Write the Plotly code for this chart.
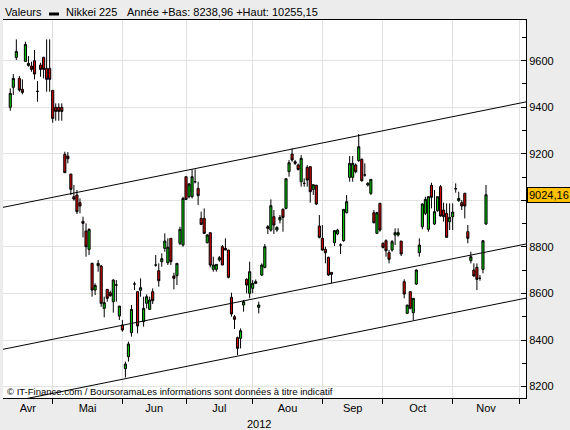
import numpy as np
import pandas as pd
import plotly.graph_objects as go

# ---------------- data ----------------
dates = pd.bdate_range("2012-04-11", "2012-11-16")  # one candle per weekday

opens = [9399.5, 9485.4, 9614.3, 9524.0, 9476.8, 9597.0, 9579.9, 9577.0, 9600.0, 9468.2,
         9581.3, 9614.3, 9567.0, 9567.0, 9472.5, 9399.5, 9399.5, 9399.5, 9197.6, 9190.4,
         9113.0, 9015.7, 9022.9, 8990.0, 8909.7, 8868.2, 8789.4, 8729.3, 8614.7, 8719.3,
         8717.9, 8536.0, 8617.6, 8603.3, 8564.6, 8636.2, 8503.0, 8464.4, 8276.8, 8328.3,
         8431.5, 8640.5, 8607.6, 8613.3, 8478.7, 8557.5, 8531.7, 8607.6, 8722.1, 8697.8,
         8736.5, 8793.7, 8732.2, 8836.7, 8675.0, 8676.3, 8815.2, 8808.0, 9101.6, 9015.7,
         9015.7, 9080.1, 9051.5, 8922.6, 8922.6, 8818.1, 8861.1, 8703.5, 8703.5, 8743.6,
         8800.9, 8793.7, 8786.6, 8583.2, 8500.2, 8410.0, 8407.1, 8550.3, 8660.6, 8600.4,
         8621.9, 8643.4, 8540.3, 8679.2, 8712.1, 8886.8, 8872.5, 8929.8, 8872.5, 8915.5,
         8961.3, 8965.6, 9123.1, 9199.0, 9166.0, 9151.7, 9080.1, 9073.0, 9141.7, 9144.6,
         9047.2, 9064.4, 8889.7, 8836.7, 8789.4, 8755.1, 8690.6, 8818.1, 8855.3, 8808.0,
         8826.7, 8947.0, 9098.8, 9098.8, 9151.7, 9170.4, 9176.1, 9108.8, 9065.8, 9030.0,
         8947.0, 8858.2, 8987.0, 8815.2, 8826.7, 8775.1, 8786.6, 8851.0, 8851.0, 8825.2,
         8650.5, 8514.5, 8607.6, 8517.4, 8640.5, 8775.1, 8886.8, 8944.1, 8875.4, 9064.4,
         8898.3, 8955.5, 9058.7, 8958.4, 8944.1, 8908.3, 8929.8, 9050.0, 8998.5, 8990.0,
         9030.0, 8865.4, 8740.8, 8700.7, 8712.1, 8664.9, 8703.5, 8898.3]
highs = [9481.0, 9542.7, 9691.6, 9534.0, 9519.8, 9681.6, 9620.0, 9595.7, 9645.8, 9512.6,
         9591.4, 9617.1, 9691.6, 9691.6, 9472.5, 9416.7, 9416.7, 9416.7, 9209.0, 9207.6,
         9113.0, 9065.8, 9044.3, 9008.5, 8929.8, 8901.1, 8879.7, 8732.2, 8643.4, 8743.6,
         8722.1, 8586.1, 8617.6, 8612.0, 8660.6, 8657.7, 8546.0, 8485.9, 8306.9, 8392.8,
         8550.3, 8650.5, 8607.6, 8664.9, 8586.1, 8596.1, 8586.1, 8621.9, 8765.1, 8729.3,
         8772.3, 8858.2, 8836.7, 8836.7, 8689.2, 8729.3, 8886.8, 9015.7, 9101.6, 9075.0,
         9133.1, 9133.1, 9080.1, 8951.3, 8965.6, 8855.0, 8861.1, 8758.0, 8725.0, 8760.8,
         8808.0, 8836.7, 8786.6, 8603.3, 8507.3, 8414.3, 8450.0, 8571.8, 8664.9, 8736.5,
         8657.7, 8660.0, 8564.6, 8729.3, 8812.4, 8894.0, 9004.2, 8958.4, 8888.0, 8936.9,
         8965.6, 9093.0, 9173.2, 9223.3, 9173.0, 9158.0, 9194.7, 9094.5, 9151.7, 9147.4,
         9067.3, 9067.3, 8936.9, 8894.0, 8800.9, 8758.0, 8690.6, 8872.5, 8878.0, 8815.2,
         8961.3, 9022.9, 9190.4, 9190.4, 9158.9, 9284.9, 9180.4, 9158.9, 9078.0, 9090.2,
         8958.4, 8951.3, 8990.0, 8820.0, 8832.4, 8786.6, 8829.5, 8879.7, 8879.7, 8825.2,
         8660.6, 8550.3, 8607.6, 8579.0, 8703.5, 8836.7, 8987.0, 9015.7, 9018.6, 9075.8,
         9044.3, 9015.7, 9065.8, 8990.0, 8987.0, 8987.0, 8987.0, 9073.0, 9037.2, 9001.4,
         9032.9, 8894.0, 8779.4, 8729.3, 8729.3, 8679.2, 8826.7, 9066.0]
lows = [9385.0, 9452.5, 9602.8, 9466.8, 9455.3, 9595.7, 9574.2, 9552.7, 9519.8, 9423.8,
        9531.2, 9524.0, 9466.8, 9466.8, 9333.6, 9342.2, 9342.2, 9342.2, 9118.8, 9158.9,
        9022.9, 8998.5, 8941.2, 8944.1, 8841.0, 8758.0, 8765.0, 8586.1, 8593.0, 8693.5,
        8543.1, 8497.3, 8564.6, 8586.1, 8517.4, 8564.6, 8485.9, 8435.7, 8238.96, 8306.9,
        8414.3, 8614.7, 8428.6, 8586.1, 8457.3, 8536.0, 8528.8, 8554.6, 8715.0, 8629.1,
        8715.0, 8779.4, 8722.1, 8722.1, 8617.6, 8636.2, 8808.0, 8800.9, 9001.4, 9008.5,
        9008.5, 9072.9, 8979.9, 8894.0, 8855.3, 8815.0, 8712.1, 8693.5, 8693.5, 8736.5,
        8722.1, 8786.6, 8664.9, 8500.2, 8447.2, 8335.5, 8364.0, 8521.7, 8600.4, 8579.0,
        8600.4, 8640.0, 8514.5, 8675.0, 8707.8, 8855.3, 8865.4, 8855.3, 8865.0, 8901.1,
        8865.4, 8961.3, 9101.6, 9166.0, 9151.7, 9128.0, 9058.7, 9058.7, 9058.7, 8989.9,
        9022.9, 8979.9, 8836.7, 8783.7, 8729.3, 8675.0, 8643.4, 8803.8, 8850.0, 8769.4,
        8822.4, 8944.1, 9080.1, 9080.1, 9115.9, 9166.0, 9080.1, 9101.6, 9060.0, 9022.9,
        8901.1, 8855.3, 8865.4, 8793.0, 8758.0, 8729.3, 8779.4, 8808.0, 8843.9, 8760.8,
        8579.0, 8511.6, 8531.7, 8485.9, 8636.2, 8758.0, 8875.4, 8936.9, 8865.4, 8965.6,
        8894.0, 8951.3, 8929.8, 8908.3, 8841.0, 8872.5, 8872.5, 9032.9, 8994.2, 8958.4,
        8922.6, 8815.2, 8729.3, 8672.0, 8614.7, 8654.8, 8686.3, 8894.0]
closes = [9459.6, 9524.0, 9640.0, 9474.0, 9463.9, 9670.0, 9588.5, 9562.7, 9542.7, 9468.2,
          9562.7, 9562.7, 9519.8, 9519.8, 9352.2, 9382.3, 9382.3, 9382.3, 9118.8, 9179.0,
          9047.2, 9005.7, 8951.3, 8975.6, 8901.1, 8800.9, 8875.4, 8614.7, 8634.7, 8729.3,
          8557.5, 8560.3, 8579.0, 8590.4, 8657.7, 8636.2, 8546.0, 8442.9, 8296.9, 8382.8,
          8531.7, 8640.5, 8460.1, 8624.8, 8536.0, 8586.1, 8571.8, 8569.0, 8722.1, 8654.8,
          8749.4, 8825.2, 8798.1, 8736.5, 8664.9, 8729.3, 8875.4, 9008.5, 9004.2, 9070.1,
          9101.6, 9080.1, 9020.0, 8896.8, 8858.2, 8851.0, 8722.1, 8722.1, 8725.0, 8753.6,
          8722.1, 8786.6, 8669.2, 8511.6, 8488.7, 8364.1, 8440.0, 8564.6, 8636.2, 8693.5,
          8643.4, 8650.5, 8550.3, 8722.1, 8800.9, 8879.7, 8977.0, 8894.0, 8884.0, 8926.9,
          8926.9, 9093.0, 9161.8, 9173.2, 9158.9, 9133.1, 9180.4, 9073.0, 9087.3, 9037.2,
          9067.3, 8984.2, 8841.0, 8786.6, 8775.1, 8679.2, 8682.0, 8869.6, 8872.5, 8808.0,
          8961.3, 8994.2, 9158.9, 9158.9, 9123.1, 9230.5, 9084.4, 9108.8, 9073.0, 9090.2,
          8904.0, 8947.0, 8872.5, 8798.0, 8783.7, 8746.5, 8822.4, 8861.1, 8861.1, 8769.4,
          8597.5, 8550.3, 8536.0, 8579.0, 8700.7, 8808.0, 8984.2, 9004.2, 9015.7, 9012.8,
          8951.3, 9015.7, 8932.6, 8929.8, 8841.0, 8926.9, 8949.9, 9050.0, 9008.5, 8975.6,
          8975.6, 8836.7, 8758.0, 8675.0, 8660.6, 8664.9, 8826.7, 9024.16]

month_names = ["Avr", "Mai", "Jun", "Jul", "Aou", "Sep", "Oct", "Nov"]
month_bounds = ["2012-04-01", "2012-05-01", "2012-06-01", "2012-07-01", "2012-08-01",
                "2012-09-01", "2012-10-01", "2012-11-01", "2012-12-01"]
y_ticks = [8200, 8400, 8600, 8800, 9000, 9200, 9400, 9600]
# the 9000 label sits under the last-price box in the reference
y_ticktext = ["8200", "8400", "8600", "8800", "", "9200", "9400", "9600"]

# regression channel (values at the left / right edges of the chart)
channel_top = [8970.0, 9423.0]
channel_mid = [8360.0, 8812.5]
channel_bot = [8128.0, 8580.0]

title_name = "Nikkei 225"
title_stats = "Année +Bas: 8238,96 +Haut: 10255,15"
last_label = "9024,16"

# ---------------- positions (trading-day index, 0 = 1 May 2012) ----------------
ORIGIN = "2012-05-01"
day_idx = np.busday_count(ORIGIN, dates.values.astype("datetime64[D]"))
bounds_idx = np.busday_count(ORIGIN, np.array(month_bounds, dtype="datetime64[D]"))
X_LO, X_HI = -16.4, 156.2
Y_LO, Y_HI = 8150.8, 9774.9
label_pos = [(max(a, X_LO) + min(b, X_HI)) / 2 for a, b in zip(bounds_idx[:-1], bounds_idx[1:])]

GREEN = "#00C400"
RED = "#D20000"
GRID = "#E2E2E2"
BG = "#ECECEC"
FONT = "Liberation Sans, Arial, sans-serif"

fig = go.Figure()
fig.add_trace(go.Candlestick(
    x=day_idx, open=opens, high=highs, low=lows, close=closes,
    increasing=dict(fillcolor=GREEN, line=dict(color="black", width=1)),
    decreasing=dict(fillcolor=RED, line=dict(color="black", width=1)),
    whiskerwidth=0, showlegend=False, hoverinfo="skip",
))
for ch in (channel_top, channel_mid, channel_bot):
    fig.add_trace(go.Scatter(x=[X_LO, X_HI], y=ch, mode="lines",
                             line=dict(color="black", width=1), showlegend=False,
                             hoverinfo="skip"))

W, H = 570, 430
ML, MR, MT, MB = 3, 44, 20, 32
PW, PH = W - ML - MR, H - MT - MB


def px(xp):
    return (xp - ML) / PW


def py(yp):
    return (H - MB - yp) / PH


fig.update_layout(
    width=W, height=H,
    margin=dict(l=ML, r=MR, t=MT, b=MB),
    paper_bgcolor=BG, plot_bgcolor="white",
    showlegend=False, boxgap=0.3, boxgroupgap=0,
    font=dict(family=FONT, size=11, color="black"),
    xaxis=dict(
        type="linear", range=[X_LO, X_HI], rangeslider=dict(visible=False),
        tickmode="array", tickvals=label_pos, ticktext=month_names, ticks="",
        showgrid=False, zeroline=False,
        showline=True, linecolor="black", linewidth=1, mirror=True,
        tickfont=dict(family=FONT, size=11, color="black"),
        minor=dict(tickmode="array", tickvals=list(bounds_idx), ticks="outside",
                   ticklen=5, tickcolor="black", tickwidth=1,
                   showgrid=True, gridcolor=GRID, gridwidth=1),
        fixedrange=True,
    ),
    yaxis=dict(
        side="right", range=[Y_LO, Y_HI],
        tickmode="array", tickvals=y_ticks, ticktext=y_ticktext,
        ticks="inside", ticklen=5, tickcolor="black",
        showgrid=True, gridcolor=GRID, gridwidth=1, zeroline=False,
        showline=True, linecolor="black", linewidth=1,
        tickfont=dict(family=FONT, size=11, color="black"),
        minor=dict(tick0=8100, dtick=100, ticks="inside", ticklen=4,
                   tickcolor="black", showgrid=False),
        fixedrange=True,
    ),
)

ann = []
ann.append(dict(text="Valeurs", x=px(3), y=py(12), xref="paper", yref="paper",
                xanchor="left", yanchor="middle", showarrow=False,
                font=dict(family=FONT, size=11, color="black")))
ann.append(dict(text=title_name, x=px(64), y=py(12), xref="paper", yref="paper",
                xanchor="left", yanchor="middle", showarrow=False,
                font=dict(family=FONT, size=11, color="black")))
ann.append(dict(text=title_stats, x=px(125), y=py(12), xref="paper", yref="paper",
                xanchor="left", yanchor="middle", showarrow=False,
                font=dict(family=FONT, size=11, color="black")))
ann.append(dict(text="© IT-Finance.com / BoursoramaLes informations sont données à titre indicatif",
                x=px(5), y=py(391), xref="paper", yref="paper",
                xanchor="left", yanchor="middle", showarrow=False,
                font=dict(family=FONT, size=9.5, color="black")))
ann.append(dict(text="2012", x=px(258.7), y=py(424), xref="paper", yref="paper",
                xanchor="center", yanchor="middle", showarrow=False,
                font=dict(family=FONT, size=11, color="black")))
ann.append(dict(text=last_label, x=1, y=closes[-1], xref="paper", yref="y",
                xanchor="left", yanchor="middle", xshift=1, showarrow=False,
                bgcolor="#FFC000", bordercolor="black", borderwidth=1, borderpad=1,
                font=dict(family=FONT, size=11, color="black")))
fig.update_layout(annotations=ann)

fig.add_shape(type="rect", xref="paper", yref="paper",
              x0=px(49), x1=px(59), y0=py(12.5), y1=py(15.5),
              fillcolor="black", line=dict(width=0))

fig.write_html("out.html")
